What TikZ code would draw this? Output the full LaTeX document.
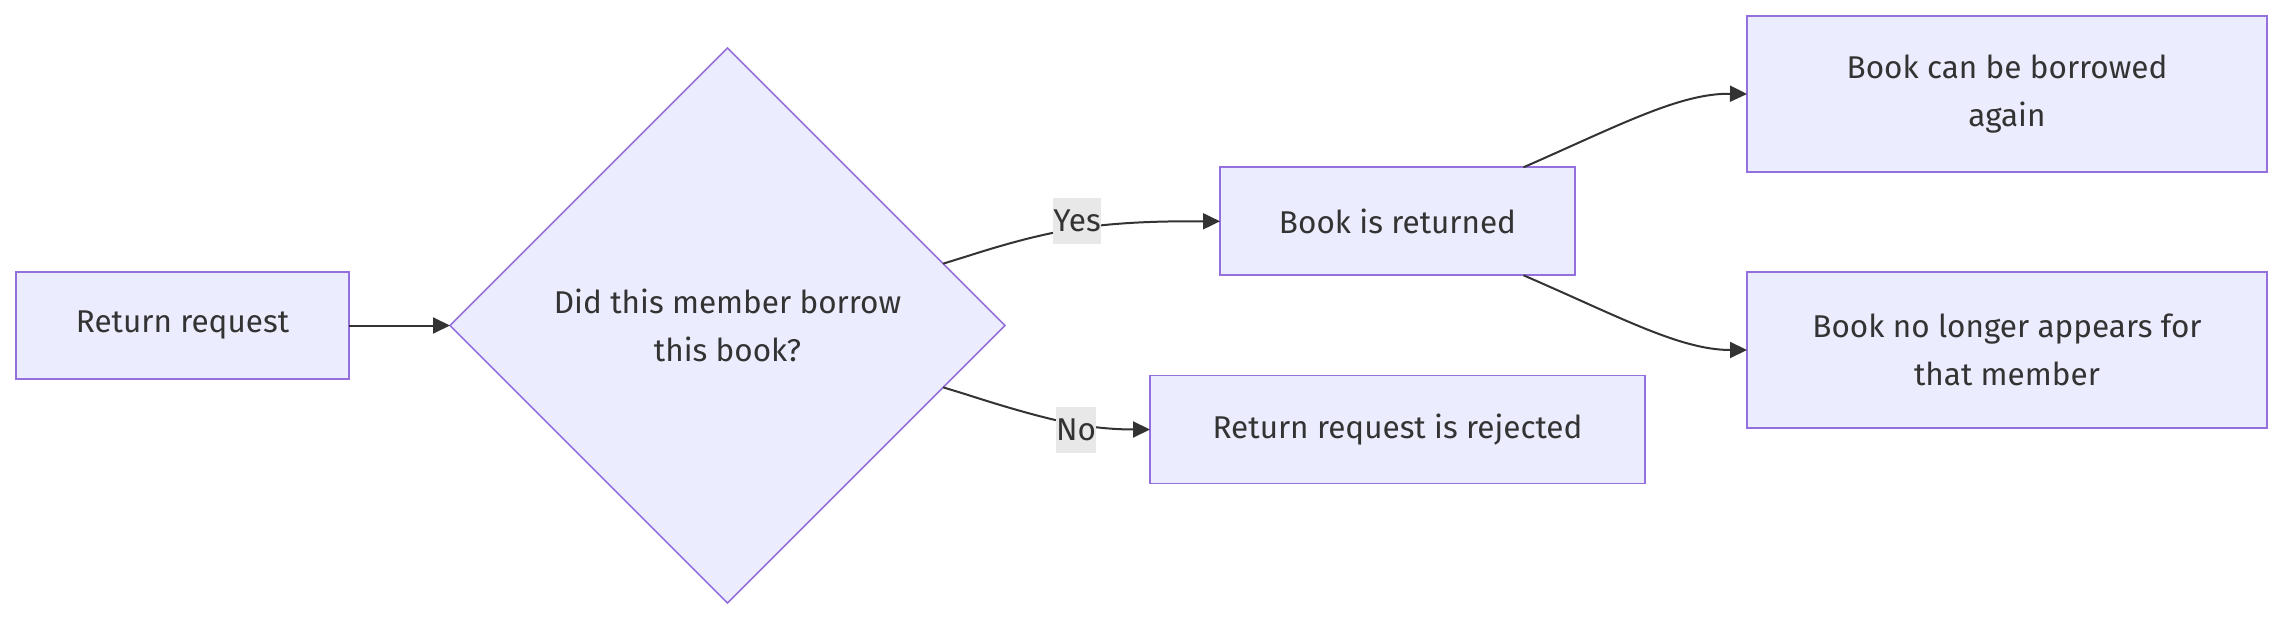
\documentclass[tikz,border=0pt]{standalone}
\usepackage{fontspec}
\setmainfont{Fira Sans}
\usetikzlibrary{shapes.geometric,arrows.meta}
\definecolor{nodefill}{HTML}{ECECFF}
\definecolor{nodeline}{HTML}{9370DB}
\definecolor{txt}{HTML}{333333}
\definecolor{lblbg}{HTML}{E8E8E8}
\tikzset{
 box/.style={draw=nodeline, fill=nodefill, line width=1.6pt, text=txt, align=center,
   inner sep=0pt, outer sep=0pt, font=\fontsize{31.5}{48}\selectfont},
 dec/.style={box, shape=diamond, aspect=1},
 conn/.style={draw=txt, line width=2pt, -{Triangle[length=17pt,width=16pt]}},
 lbl/.style={fill=lblbg, text=txt, inner xsep=0pt, inner ysep=0pt, minimum height=46pt,
   font=\fontsize{31.5}{36}\selectfont}
}
\begin{document}
\begin{tikzpicture}[x=1pt,y=-1pt]
\useasboundingbox (0,0) rectangle (2283,620);
\node[box, minimum width=333pt, minimum height=107pt] (rr) at (182.5,325.5) {Return request};
\node[dec, minimum width=555pt, minimum height=555pt] (d) at (727.5,325.5) {Did this member borrow\\this book?};
\node[box, minimum width=355pt, minimum height=108pt] (br) at (1397.5,221.3) {Book is returned};
\node[box, minimum width=495pt, minimum height=108pt] (rj) at (1397.5,429.5) {Return request is rejected};
\node[box, minimum width=520pt, minimum height=156pt] (tr) at (2007,94) {Book can be borrowed\\again};
\node[box, minimum width=520pt, minimum height=156pt] (nl) at (2007,350) {Book no longer appears for\\that member};
\coordinate (yesc) at (1077,221.3);
\coordinate (noc) at (1076,429.5);
\draw[conn] (rr.east) -- (d.west);
\draw[conn] (d.16) -- (965.3,256.8) .. controls (987.7,249.7) and (1032.3,235.3) .. (1078.5,228.2)
   .. controls (1124.7,221.3) and (1172.3,221.3) .. (1196.2,221.3) -- (br.west);
\draw[conn] (d.-16) -- (965.2,394.1) .. controls (987.3,401.2) and (1031.7,415.3) .. (1066.2,422.4)
   .. controls (1100.7,429.5) and (1125.3,429.5) .. (1137.7,429.5) -- (rj.west);
\draw[conn] ([xshift=126pt]br.north) .. controls (1620,125) and (1680,93) .. (tr.west);
\draw[conn] ([xshift=126pt]br.south) .. controls (1620,317) and (1680,350) .. (nl.west);
\node[lbl] (yes) at (yesc) {Yes};
\node[lbl] (no) at (noc) {No};
\end{tikzpicture}
\end{document}
